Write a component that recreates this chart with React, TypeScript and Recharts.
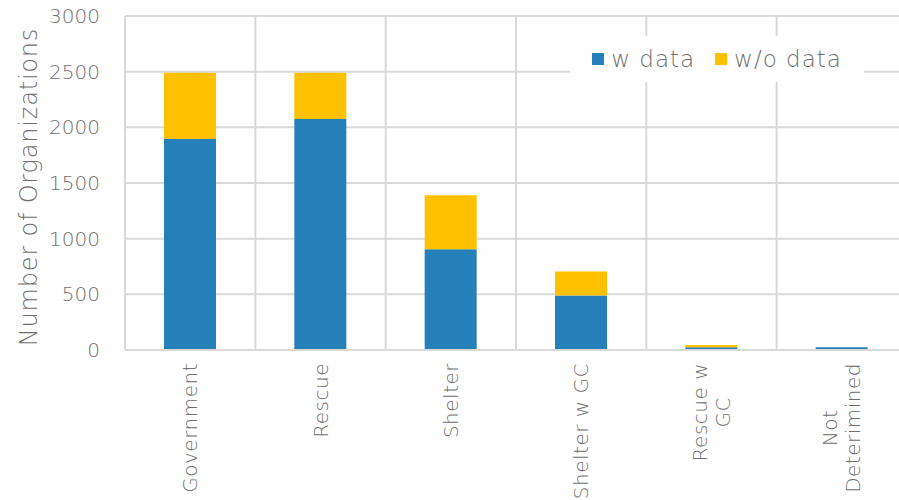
import React from 'react';
import {
  BarChart, Bar, XAxis, YAxis, CartesianGrid, Legend, Label
} from 'recharts';

// Organization counts by type, split by whether data was available
const categories: string[] = ['Government', 'Rescue', 'Shelter', 'Shelter w GC', 'Rescue w\nGC', 'Not\nDeterimined'];
const withData: number[] = [1895, 2075, 905, 490, 25, 25];
const withoutData: number[] = [595, 415, 485, 215, 20, 0];
const yTicks: number[] = [0, 500, 1000, 1500, 2000, 2500, 3000];

const chartData = categories.map((name, i) => ({
  name,
  withData: withData[i],
  withoutData: withoutData[i],
}));

const FONT = "'DejaVu Sans', sans-serif";
const TEXT_COLOR = '#6e6e6e';
const GRID_COLOR = '#d9d9d9';
const BLUE = '#2580BA';
const GOLD = '#FFC000';

const TICK_SIZE = 20;
const TICK_SPACING = 0.5;

const measureCanvas = typeof document !== 'undefined' ? document.createElement('canvas') : null;
const measure = (text: string, size: number) => {
  const ctx = measureCanvas?.getContext('2d');
  if (!ctx) return text.length * size * 0.6;
  ctx.font = `200 ${size}px ${FONT}`;
  return ctx.measureText(text).width + text.length * TICK_SPACING;
};

// Rotated category label; wrapped lines are centred on the longest one
const CategoryTick = (props: any) => {
  const { x, y, payload } = props;
  const lines: string[] = String(payload.value).split('\n');
  const widest = Math.max(...lines.map((l) => measure(l, TICK_SIZE)));
  const lineHeight = 23;
  return (
    <g transform={`translate(${x},${y}) rotate(-90)`}>
      {lines.map((line, i) => (
        <text
          key={i}
          x={-widest / 2}
          y={(i - (lines.length - 1) / 2) * lineHeight}
          textAnchor="middle"
          dominantBaseline="central"
          fill={TEXT_COLOR}
          fontSize={TICK_SIZE}
          fontFamily={FONT}
          fontWeight={200}
          letterSpacing={TICK_SPACING}
        >
          {line}
        </text>
      ))}
    </g>
  );
};

const renderLegend = () => (
  <div
    style={{
      background: '#fff',
      width: 294,
      height: 46,
      display: 'flex',
      alignItems: 'center',
      justifyContent: 'center',
      fontFamily: FONT,
      fontWeight: 200,
      fontSize: 23,
      letterSpacing: 1,
      color: TEXT_COLOR,
    }}
  >
    {[{ label: 'w data', color: BLUE }, { label: 'w/o data', color: GOLD }].map((item, i) => (
      <span key={item.label} style={{ display: 'flex', alignItems: 'center', marginLeft: i ? 20 : 0 }}>
        <span style={{ width: 12, height: 12, background: item.color, marginRight: 7, display: 'inline-block' }} />
        {item.label}
      </span>
    ))}
  </div>
);

const App: React.FC = () => {
  return (
    <div style={{ position: 'absolute', left: 0, top: 0, width: 899, height: 500, overflow: 'hidden', background: '#fff' }}>
      <BarChart
        width={907}
        height={500}
        data={chartData}
        margin={{ top: 16, right: 0, left: 0, bottom: 0 }}
        barSize={52}
      >
        <CartesianGrid
          stroke={GRID_COLOR}
          strokeWidth={2}
          verticalCoordinatesGenerator={({ offset }: any) =>
            categories.map((_, i) => offset.left + (i * offset.width) / categories.length).concat(offset.left + offset.width)
          }
        />
        <XAxis
          dataKey="name"
          height={150}
          interval={0}
          tickLine={false}
          tickSize={0}
          tickMargin={13}
          axisLine={{ stroke: GRID_COLOR, strokeWidth: 2 }}
          tick={<CategoryTick />}
        />
        <YAxis
          width={125}
          domain={[0, 3000]}
          ticks={yTicks}
          axisLine={false}
          tickLine={false}
          tickSize={0}
          tickMargin={25}
          tick={{ fill: TEXT_COLOR, fontSize: 20, fontFamily: FONT, fontWeight: 200 }}
        >
          <Label
            content={() => (
              <text
                x={29}
                y={187}
                transform="rotate(-90, 29, 187)"
                textAnchor="middle"
                dominantBaseline="central"
                fill={TEXT_COLOR}
                fontSize={24}
                fontFamily={FONT}
                fontWeight={200}
                letterSpacing={0.8}
              >
                Number of Organizations
              </text>
            )}
          />
        </YAxis>
        <Legend
          layout="horizontal"
          verticalAlign="middle"
          align="center"
          content={renderLegend}
          wrapperStyle={{ position: 'absolute', left: 570, top: 36, width: 294, height: 46 }}
        />
        <Bar dataKey="withData" name="w data" stackId="a" fill={BLUE} isAnimationActive={false} />
        <Bar dataKey="withoutData" name="w/o data" stackId="a" fill={GOLD} isAnimationActive={false} />
      </BarChart>
    </div>
  );
};

export default App;
